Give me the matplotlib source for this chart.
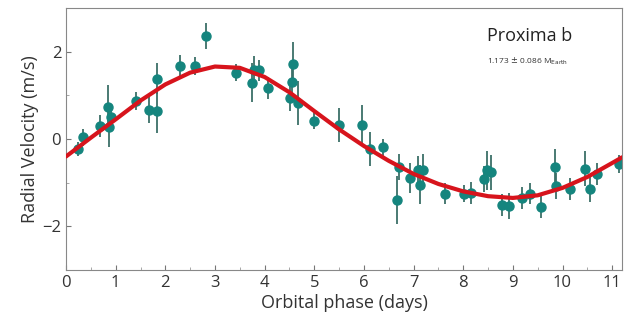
import numpy as np
import matplotlib.pyplot as plt

# RV measurements folded on the orbital period
phase = [0.25, 0.35, 0.69, 0.85, 0.87, 0.90, 1.41, 1.68, 1.84, 1.83, 2.30, 2.60,
         2.82, 3.43, 3.74, 3.78, 3.88, 4.07, 4.58, 4.55, 4.52, 4.68, 4.99, 5.49,
         5.96, 6.13, 6.38, 6.70, 6.67, 6.92, 7.08, 7.19, 7.12, 7.63, 8.01, 8.15,
         8.41, 8.48, 8.55, 8.78, 8.92, 9.19, 9.35, 9.56, 9.84, 9.87, 10.15, 10.46,
         10.56, 10.70, 11.14]
rv = [-0.23, 0.04, 0.30, 0.74, 0.27, 0.50, 0.87, 0.67, 0.64, 1.38, 1.67, 1.67,
      2.35, 1.52, 1.29, 1.59, 1.57, 1.17, 1.72, 1.30, 0.95, 0.83, 0.42, 0.32,
      0.32, -0.23, -0.19, -0.64, -1.40, -0.89, -0.70, -0.70, -1.05, -1.25, -1.25, -1.23,
      -0.91, -0.72, -0.76, -1.52, -1.53, -1.36, -1.25, -1.55, -0.64, -1.07, -1.14, -0.68,
      -1.14, -0.80, -0.57]
rv_err = [0.15, 0.20, 0.25, 0.50, 0.45, 0.30, 0.20, 0.30, 0.50, 0.35, 0.25, 0.20,
          0.30, 0.20, 0.45, 0.30, 0.25, 0.25, 0.50, 0.30, 0.30, 0.50, 0.20, 0.40,
          0.45, 0.40, 0.20, 0.30, 0.55, 0.35, 0.30, 0.35, 0.45, 0.25, 0.20, 0.25,
          0.30, 0.45, 0.40, 0.25, 0.30, 0.25, 0.25, 0.25, 0.40, 0.30, 0.25, 0.40,
          0.30, 0.25, 0.20]

# fitted orbit
model_phase = [0.0, 0.5, 1.0, 1.5, 2.0, 2.5, 3.0, 3.5, 4.0, 4.5, 5.0, 5.5,
               6.0, 6.5, 7.0, 7.5, 8.0, 8.5, 9.0, 9.5, 10.0, 10.5, 11.0, 11.2]
model_rv = [-0.40, 0.03, 0.45, 0.88, 1.25, 1.52, 1.66, 1.63, 1.42, 1.07, 0.64, 0.22,
            -0.16, -0.50, -0.80, -1.03, -1.20, -1.31, -1.35, -1.29, -1.12, -0.87, -0.55, -0.42]

plt.rcParams['font.family'] = ['Open Sans', 'DejaVu Sans']

fig = plt.figure(figsize=(6.29, 3.21), dpi=100)
ax = fig.add_axes([0.105, 0.159, 0.884, 0.816])

ax.errorbar(phase, rv, yerr=rv_err, fmt='o', color='#15857e', ecolor='#3b6f68',
            elinewidth=1.3, markersize=6.5, capsize=0, zorder=2)
ax.plot(model_phase, model_rv, color='#d7141c', lw=3, solid_joinstyle='round',
        solid_capstyle='round', zorder=3)

ax.set_xlim(0, 11.2)
ax.set_ylim(-3, 3)
ax.set_xticks(np.arange(0, 12, 1))
ax.set_xticks(np.arange(0, 11.5, 0.5), minor=True)
ax.set_yticks([-2, 0, 2])
ax.set_yticks([-3, -1, 1, 3], minor=True)
ax.tick_params(direction='in', labelsize=12, color='#777777', labelcolor='#333333')
ax.tick_params(which='minor', direction='in', color='#999999')
for s in ax.spines.values():
    s.set_color('#888888')

ax.set_xlabel('Orbital phase (days)', fontsize=13, color='#333333', labelpad=2)
ax.set_ylabel('Radial Velocity (m/s)', fontsize=13, color='#333333', labelpad=2)

ax.text(0.757, 0.875, 'Proxima b', transform=ax.transAxes, fontsize=13, color='#222222')
ax.text(0.757, 0.79, r'1.173 $\pm$ 0.086 M$_{\mathrm{Earth}}$', transform=ax.transAxes,
        fontsize=6, color='#333333')

fig.savefig('out.png', dpi=100)
